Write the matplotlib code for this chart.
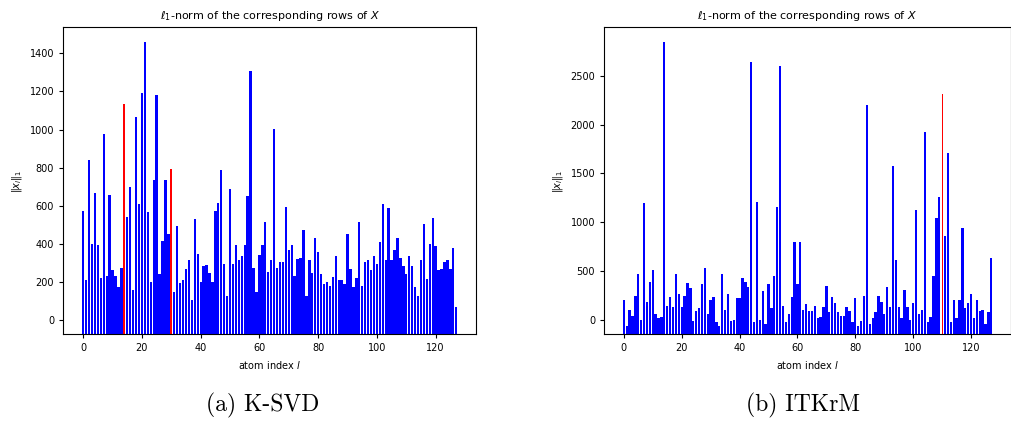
import numpy as np
import matplotlib
matplotlib.use("Agg")
import matplotlib.pyplot as plt

# l1-norms, atoms 0..127
ksvd_norms = [
    571, 209, 840, 400, 667, 392, 223, 979, 230, 654, 262, 231, 171, 275, 1136, 540,
    697, 157, 1066, 611, 1194, 1460, 566, 200, 736, 1180, 244, 414, 736, 453, 792, 148,
    496, 192, 209, 267, 313, 104, 528, 348, 200, 282, 287, 246, 202, 571, 614, 788,
    296, 127, 688, 296, 392, 313, 334, 392, 653, 1305, 275, 148, 340, 392, 517, 252,
    313, 1002, 275, 305, 305, 592, 366, 392, 232, 319, 327, 475, 127, 313, 247, 432,
    357, 240, 188, 200, 178, 226, 334, 209, 209, 188, 453, 266, 171, 223, 514, 179,
    305, 313, 261, 334, 296, 409, 609, 313, 587, 313, 366, 432, 327, 282, 244, 334,
    282, 171, 127, 313, 505, 214, 400, 535, 387, 261, 266, 305, 313, 266, 380, 66,
]
itkrm_norms = [
    204, -58, 102, 44, 248, 467, 0, 1196, 188, 392, 510, 58, 17, 27, 2846, 146,
    231, 130, 467, 265, 130, 248, 374, 323, -14, 88, 120, 367, 537, 61, 204, 231,
    -24, -58, 467, 102, 265, -14, 0, 221, 221, 435, 391, 333, 2643, -24, 1213, 3,
    292, -41, 367, 122, 450, 1155, 2605, 146, -20, 61, 231, 798, 367, 798, 102, 163,
    90, 90, 145, 18, 27, 129, 350, 78, 231, 175, 82, 44, 44, 129, 88, -17,
    221, -60, -14, 248, 2198, -41, 24, 85, 248, 187, 61, 333, 129, 1579, 611, 129,
    17, 306, 129, 0, 170, 1128, 61, 102, 1926, -17, 27, 448, 1043, 1257, 2317, 856,
    1705, -17, 204, 17, 204, 944, 119, 170, 265, 17, 204, 95, 102, -41, 78, 639,
]
ksvd_red = [14, 30]
itkrm_red = [110]
ksvd_base = -75
itkrm_base = -146

panels = [
    ("(a) K-SVD", ksvd_norms, ksvd_red, ksvd_base, 0.8),
    ("(b) ITKrM", itkrm_norms, itkrm_red, itkrm_base, 0.4),
]

fig = plt.figure(figsize=(10.12, 4.21), dpi=100)
axes = [fig.add_axes([0.0625, 0.206, 0.408, 0.729]),
        fig.add_axes([0.597, 0.206, 0.402, 0.729])]
caption_x = [0.26, 0.793]

for ax, (caption, norms, red, base, red_w), cx in zip(axes, panels, caption_x):
    vals = np.array(norms, dtype=float)
    idx = np.arange(len(vals))
    is_red = np.isin(idx, red)
    ax.bar(idx[~is_red], vals[~is_red] - base, bottom=base, width=0.8, color="blue")
    # highlighted atoms
    ax.bar(idx[is_red], vals[is_red] - base, bottom=base, width=red_w, color="red")
    ax.set_title(r"$\ell_1$-norm of the corresponding rows of $X$", fontsize=8)
    ax.set_xlabel(r"atom index $l$", fontsize=7)
    ax.set_ylabel(r"$\|x_l\|_1$", fontsize=7)
    ax.tick_params(labelsize=7, length=3)
    fig.text(cx, 0.022, caption, fontsize=17, family="cmr10", ha="center")

fig.savefig("out.png", dpi=100)
